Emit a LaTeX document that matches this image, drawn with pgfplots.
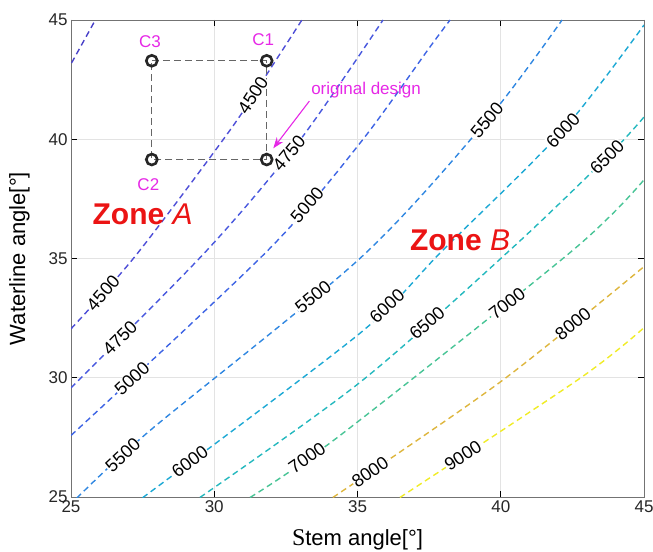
\documentclass[border=0pt]{standalone}
\usepackage{pgfplots}
\pgfplotsset{compat=1.18}
\usepackage{fontspec}
\setmainfont{Liberation Sans}
\newfontfamily\seriffont{Liberation Serif}
\usetikzlibrary{arrows.meta}
\definecolor{cL0}{RGB}{72,64,200}
\definecolor{cA}{RGB}{78,78,215}
\definecolor{cB}{RGB}{72,88,222}
\definecolor{cC}{RGB}{62,100,228}
\definecolor{cD}{RGB}{48,135,225}
\definecolor{cE}{RGB}{28,168,212}
\definecolor{cF}{RGB}{36,184,190}
\definecolor{cG}{RGB}{72,196,150}
\definecolor{cH}{RGB}{222,182,62}
\definecolor{cI}{RGB}{240,236,40}
\definecolor{mag}{RGB}{230,40,230}
\definecolor{zred}{RGB}{235,20,20}
\tikzset{lbl/.style={fill=white, inner sep=0.5bp, font=\fontsize{18bp}{21bp}\selectfont, text=black}}
\begin{document}
\begin{tikzpicture}
\path[use as bounding box] (-71bp,-55bp) rectangle (582bp,497bp);
\begin{axis}[at={(0,0)}, anchor=south west, scale only axis, width=573bp, height=477bp,
 xmin=25, xmax=45, ymin=25, ymax=45,
 xtick={25,30,...,45}, ytick={25,30,...,45},
 grid=major, grid style={gray!22, line width=0.6bp},
 axis line style={black!55, line width=0.8bp},
 tick align=inside, major tick length=6bp, tick style={black, line width=0.6bp},
 ticklabel style={font=\fontsize{17bp}{20bp}\selectfont, text=black!85},
 /pgf/number format/assume math mode=true,
 xlabel={{\seriffont\fontsize{24bp}{26bp}\selectfont S}tem angle[°]}, ylabel={Waterline angle[°]},
 label style={font=\fontsize{22bp}{26bp}\selectfont},
 xlabel style={at={(axis description cs:0.5,-0.09)}, anchor=center},
 ylabel style={at={(axis description cs:-0.09,0.5)}, anchor=center},
 every axis plot/.append style={line width=1.4bp, dash pattern=on 6bp off 4bp},
 clip=true,
]
% contour lines
\addplot[cL0, smooth, no marks] coordinates {(25.02,43.20) (25.85,45.0)};
\addplot[cA, smooth, no marks] coordinates {(25.0,32.05) (27.27,35.14) (30.55,40.38) (32.02,43.07) (33.06,45.0)};
\addplot[cB, smooth, no marks] coordinates {(25.0,29.58) (29.75,35.35) (32.99,39.96) (35.89,45.0)};
\addplot[cC, smooth, no marks] coordinates {(25.0,27.58) (31.88,35.35) (35.09,39.84) (37.53,43.87) (38.23,45.0)};
\addplot[cD, smooth, no marks] coordinates {(25.2,24.95) (27.76,27.79) (35.09,35.01) (39.52,40.80) (42.14,45.0)};
\addplot[cE, smooth, no marks] coordinates {(27.5,24.97) (35.09,31.87) (37.98,35.35) (42.17,40.38) (45.0,44.79)};
\addplot[cF, smooth, no marks] coordinates {(29.5,24.98) (35.09,29.81) (40.32,35.35) (43.71,39.25) (45.0,40.93)};
\addplot[cG, smooth, no marks] coordinates {(31.25,24.98) (34.39,27.58) (42.52,35.35) (45.0,38.3)};
\addplot[cH, smooth, no marks] coordinates {(34.14,24.98) (39.97,29.81) (45.0,34.66)};
\addplot[cI, smooth, no marks] coordinates {(36.48,24.98) (42.77,29.98) (45.0,32.1)};
% design box
\addplot[black!60, line width=1.4bp, dash pattern=on 7bp off 4bp, no marks] coordinates {(27.82,43.29) (31.83,43.29) (31.83,39.15) (27.82,39.15) (27.82,43.29)};
\addplot[only marks, mark=o, mark size=5.5bp, mark options={solid, line width=2.6bp, draw=black!85}] coordinates {(27.82,43.29) (31.83,43.29) (31.83,39.15) (27.82,39.15)};
% contour labels
\node[lbl, rotate=57] at (axis cs:31.35,41.85) {4500};
\node[lbl, rotate=49] at (axis cs:26.12,33.56) {4500};
\node[lbl, rotate=50] at (axis cs:32.61,39.42) {4750};
\node[lbl, rotate=45] at (axis cs:26.71,31.66) {4750};
\node[lbl, rotate=49] at (axis cs:33.24,37.25) {5000};
\node[lbl, rotate=43] at (axis cs:27.13,29.97) {5000};
\node[lbl, rotate=50] at (axis cs:39.52,40.80) {5500};
\node[lbl, rotate=39] at (axis cs:33.45,33.40) {5500};
\node[lbl, rotate=43] at (axis cs:26.81,26.75) {5500};
\node[lbl, rotate=47] at (axis cs:42.17,40.38) {6000};
\node[lbl, rotate=43] at (axis cs:36.03,33.00) {6000};
\node[lbl, rotate=37] at (axis cs:29.15,26.49) {6000};
\node[lbl, rotate=45] at (axis cs:43.71,39.25) {6500};
\node[lbl, rotate=41] at (axis cs:37.43,32.29) {6500};
\node[lbl, rotate=38] at (axis cs:40.22,33.12) {7000};
\node[lbl, rotate=35] at (axis cs:33.24,26.64) {7000};
\node[lbl, rotate=39] at (axis cs:42.52,32.26) {8000};
\node[lbl, rotate=35] at (axis cs:35.44,26.05) {8000};
\node[lbl, rotate=33] at (axis cs:38.68,26.73) {9000};
% annotations
\node[text=mag, font=\fontsize{17bp}{19bp}\selectfont] at (axis cs:27.76,44.09) {C3};
\node[text=mag, font=\fontsize{17bp}{19bp}\selectfont] at (axis cs:31.71,44.16) {C1};
\node[text=mag, font=\fontsize{17bp}{19bp}\selectfont] at (axis cs:27.70,38.08) {C2};
\node[text=mag, font=\fontsize{17bp}{20bp}\selectfont] at (axis cs:35.30,42.06) {original design};
\draw[mag, line width=1.1bp, -{Stealth[length=11bp,width=8bp]}] (axis cs:33.32,41.60) -- (axis cs:32.06,39.62);
\node[text=zred, font=\fontsize{30bp}{34bp}\selectfont] at (axis cs:27.50,36.85) {\textbf{Zone} \textit{A}};
\node[text=zred, font=\fontsize{30bp}{34bp}\selectfont] at (axis cs:38.58,35.75) {\textbf{Zone} \textit{B}};
\end{axis}
\end{tikzpicture}
\end{document}
